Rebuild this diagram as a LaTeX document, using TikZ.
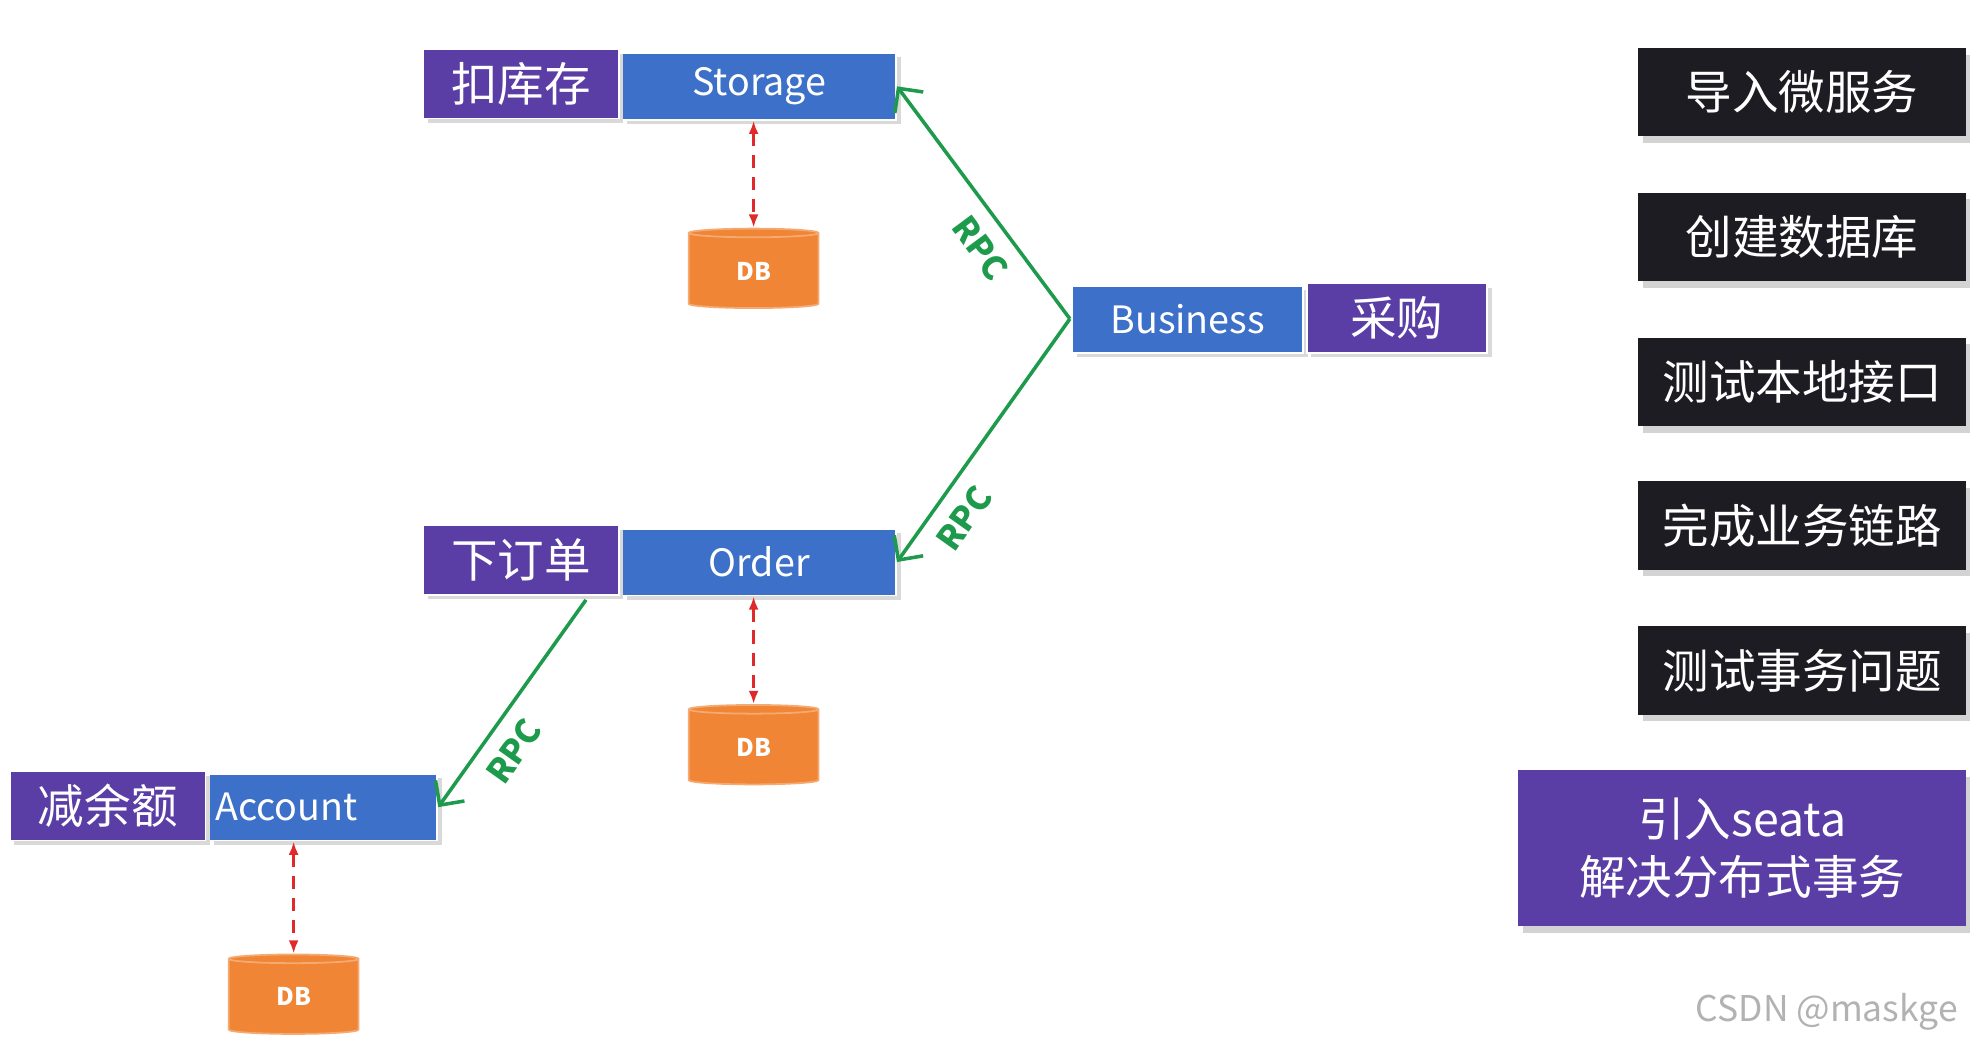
\documentclass[tikz,border=0pt]{standalone}
\usepackage{fontspec}
\setmainfont{Noto Sans CJK SC}
\usetikzlibrary{shapes.geometric,arrows.meta,shadows}
\definecolor{svcblue}{HTML}{3D70C8}
\definecolor{tagpurple}{HTML}{5A3EA6}
\definecolor{dborange}{HTML}{EF8535}
\definecolor{rpcgreen}{HTML}{1E9A4C}
\definecolor{linkred}{HTML}{E02A2A}
\definecolor{stepblack}{HTML}{1C1C22}
\begin{document}
\begin{tikzpicture}[x=0.01cm,y=-0.01cm,
  svc/.style={fill=svcblue,draw=white,thin,text=white,font=\fontsize{8.5}{10}\selectfont,
    minimum height=0.53cm,inner sep=0pt,drop shadow={opacity=0.3,shadow xshift=1pt,shadow yshift=-1pt}},
  tag/.style={fill=tagpurple,draw=white,thin,text=white,font=\fontsize{10.5}{12}\selectfont,
    minimum height=0.55cm,minimum width=1.55cm,inner sep=0pt,drop shadow={opacity=0.3,shadow xshift=1pt,shadow yshift=-1pt}},
  db/.style={cylinder,shape border rotate=90,aspect=0.25,fill=dborange,draw=dborange!70!white,
    minimum width=1.03cm,minimum height=0.63cm,inner sep=0pt,text=white,font=\fontsize{5.5}{6}\selectfont\bfseries},
  stepbox/.style={fill=stepblack,text=white,font=\fontsize{10.5}{12}\selectfont,minimum width=2.6cm,
    minimum height=0.7cm,inner sep=0pt,drop shadow={opacity=0.35,shadow xshift=1pt,shadow yshift=-1.5pt}},
  rpc/.style={draw=rpcgreen,thick,-{Straight Barb[length=4pt]}},
  rpclbl/.style={text=rpcgreen,font=\fontsize{7.5}{8}\selectfont\bfseries,sloped},
  dblink/.style={draw=linkred,thick,densely dashed,{Latex[length=3pt]}-{Latex[length=3pt]}}]
\useasboundingbox (0,0) rectangle (1568,839);

\node[svc,minimum width=2.17cm] (storage) at (602.5,68.5) {Storage};
\node[tag] (kc) at (413.5,66.5) {扣库存};
\node[db] (db1) at (598,215) {DB};

\node[svc,minimum width=1.83cm] (business) at (942.5,253.5) {Business};
\node[tag,minimum width=1.43cm] (cg) at (1108.5,252.5) {采购};

\node[svc,minimum width=2.17cm] (order) at (602.5,446) {Order};
\node[tag] (xdd) at (413.5,444.5) {下订单};
\node[db] (db2) at (598,593) {DB};

\node[svc,minimum width=1.81cm,text width=1.71cm,align=left] (account) at (256.5,640.5) {Account};
\node[tag] (jye) at (85.5,639.5) {减余额};
\node[db] (db3) at (233,791) {DB};

\coordinate (bl) at (849,253);
\coordinate (of) at (465,476);
\draw[rpc] (bl) -- node[rpclbl,below,pos=0.38] {RPC} (storage.east);
\draw[rpc] (bl) -- node[rpclbl,below,pos=0.75] {RPC} (order.east);
\draw[rpc] (of) -- node[rpclbl,below,pos=0.65] {RPC} (account.east);

\draw[dblink] (db1.top |- storage.south) -- (db1.top);
\draw[dblink] (db2.top |- order.south) -- (db2.top);
\draw[dblink] (db3.top |- account.south) -- (db3.top);

\node[stepbox] (s1) at (1430,73) {导入微服务};
\node[stepbox] (s2) at (1430,188) {创建数据库};
\node[stepbox] (s3) at (1430,303) {测试本地接口};
\node[stepbox] (s4) at (1430,417) {完成业务链路};
\node[stepbox] (s5) at (1430,532) {测试事务问题};
\node[stepbox,fill=tagpurple,minimum width=3.55cm,minimum height=1.24cm,align=center,
  font=\fontsize{10.5}{13}\selectfont] (s6) at (1382.5,673) {引入seata\\解决分布式事务};

\node[text=gray!60,font=\fontsize{8}{9}\selectfont,anchor=south east] (wm) at (1566,830) {CSDN @maskge};
\end{tikzpicture}
\end{document}
